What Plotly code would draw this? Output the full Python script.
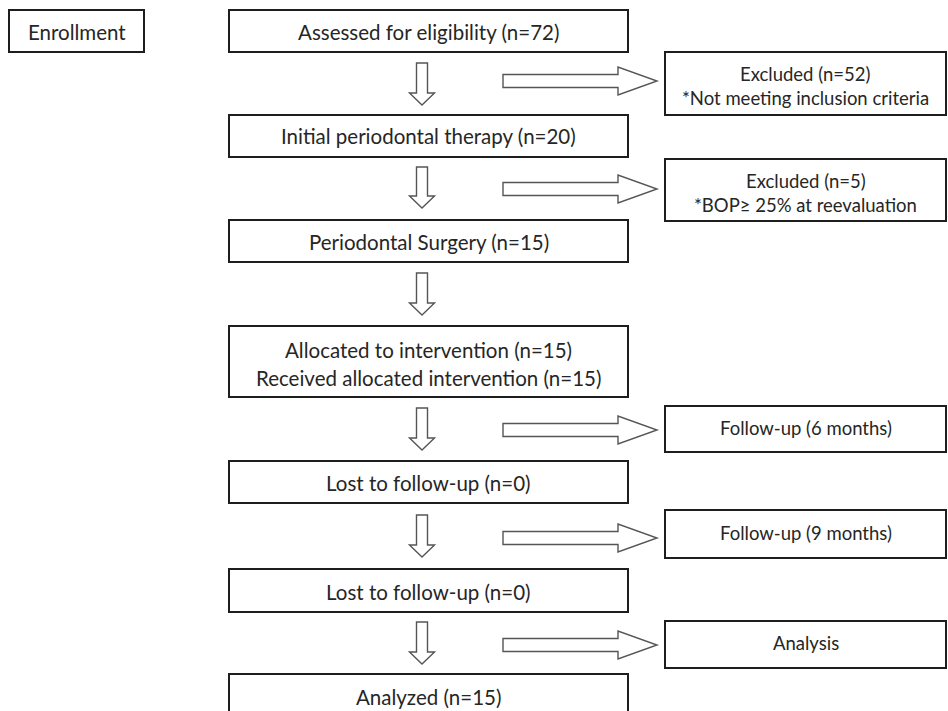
import plotly.graph_objects as go

# ---- content (text / counts) ----
enroll_label = "Enrollment"
main_labels = [
    ["Assessed for eligibility (n=72)"],
    ["Initial periodontal therapy (n=20)"],
    ["Periodontal Surgery (n=15)"],
    ["Allocated to intervention (n=15)", "Received allocated intervention (n=15)"],
    ["Lost to follow-up (n=0)"],
    ["Lost to follow-up (n=0)"],
    ["Analyzed (n=15)"],
]
side_labels = [
    ["Excluded (n=52)", "*Not meeting inclusion criteria"],
    ["Excluded (n=5)", "*BOP\u2265 25% at reevaluation"],
    ["Follow-up (6 months)"],
    ["Follow-up (9 months)"],
    ["Analysis"],
]

# ---- layout geometry (pixels) ----
W, H = 948, 711
enroll_box = (9, 144, 10, 52)
main_x = (229, 628)
main_y = [(10, 52), (115, 157), (220, 262), (326, 397), (461, 503), (569, 612), (674, 716)]
main_text_y = [[32], [136], [242], [350, 378], [483], [592], [697]]
side_x = (665, 946)
side_y = [(52, 115), (159, 221), (406, 452), (510, 558), (621, 668)]
side_text_y = [[74, 98], [181, 205], [428], [533], [643]]
down_x = 422
down_arrows = [(63, 105), (167, 208), (273, 315), (408, 450), (515, 557), (622, 664)]
right_x = (503, 618, 657)
right_arrows_y = [81, 189, 430, 538, 645]

FONT = "Lato, 'Open Sans', sans-serif"
BOX_LINE = dict(color="#1e1e1e", width=2)
ARROW_LINE = dict(color="#555555", width=1.4)
TXT = "#262626"
MAIN_SIZE = 20.5
SIDE_SIZE = 18.5

fig = go.Figure()
shapes = []
annotations = []

def box(x0, x1, y0, y1):
    shapes.append(dict(type="rect", xref="x", yref="y", x0=x0, x1=x1, y0=y0, y1=y1,
                       line=BOX_LINE, fillcolor="white", layer="above"))

def label(x, y, text, size=MAIN_SIZE):
    annotations.append(dict(x=x, y=y, xref="x", yref="y", text=text, showarrow=False,
                            font=dict(family=FONT, size=size, color=TXT),
                            xanchor="center", yanchor="middle"))

# enrollment
box(enroll_box[0], enroll_box[1], enroll_box[2], enroll_box[3])
label((enroll_box[0] + enroll_box[1]) / 2, 32, enroll_label)

# main column
for lines, (y0, y1), ty in zip(main_labels, main_y, main_text_y):
    box(main_x[0], main_x[1], y0, y1)
    for t, yy in zip(lines, ty):
        label((main_x[0] + main_x[1]) / 2, yy, t)

# side column
for lines, (y0, y1), ty in zip(side_labels, side_y, side_text_y):
    box(side_x[0], side_x[1], y0, y1)
    for t, yy in zip(lines, ty):
        label((side_x[0] + side_x[1]) / 2, yy, t, size=SIDE_SIZE)

# down arrows
sw, hw, hl = 5.5, 12.5, 12
for (ya, yb) in down_arrows:
    hb = yb - hl
    p = (f"M {down_x - sw} {ya} L {down_x + sw} {ya} L {down_x + sw} {hb} "
         f"L {down_x + hw} {hb} L {down_x} {yb} L {down_x - hw} {hb} L {down_x - sw} {hb} Z")
    shapes.append(dict(type="path", xref="x", yref="y", path=p, line=ARROW_LINE,
                       fillcolor="white"))

# right arrows
sh, hh = 6.5, 14
xa, xb, xt = right_x
for yc in right_arrows_y:
    p = (f"M {xa} {yc - sh} L {xb} {yc - sh} L {xb} {yc - hh} L {xt} {yc} "
         f"L {xb} {yc + hh} L {xb} {yc + sh} L {xa} {yc + sh} Z")
    shapes.append(dict(type="path", xref="x", yref="y", path=p, line=ARROW_LINE,
                       fillcolor="white"))

fig.update_layout(
    width=W, height=H,
    margin=dict(l=0, r=0, t=0, b=0),
    paper_bgcolor="white", plot_bgcolor="white",
    xaxis=dict(range=[0, W], visible=False, fixedrange=True),
    yaxis=dict(range=[H, 0], visible=False, fixedrange=True),
    shapes=shapes, annotations=annotations, showlegend=False,
)
fig.write_html(
    "out.html",
    config={"displayModeBar": False},
    post_script="document.body.style.margin='0';document.body.style.overflow='hidden';",
)
